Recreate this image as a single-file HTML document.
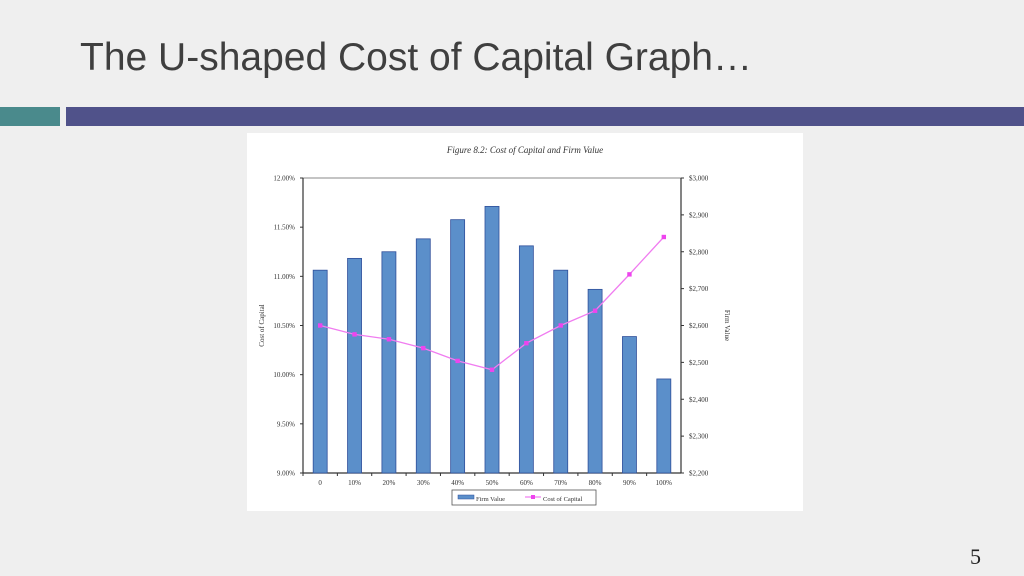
<!DOCTYPE html>
<html><head><meta charset="utf-8"><style>
body{margin:0;width:1024px;height:576px;background:#efefef;position:relative;overflow:hidden;font-family:"Liberation Sans",sans-serif}
#title{position:absolute;left:80px;top:36px;font-size:39px;color:#3f3f3f;white-space:nowrap}
#bar-teal{position:absolute;left:0;top:107px;width:60px;height:19px;background:#4a8a8c}
#bar-purple{position:absolute;left:66px;top:107px;width:958px;height:19px;background:#50528a}
#page-num{position:absolute;left:970px;top:544px;font-family:"Liberation Serif",serif;font-size:22px;color:#222}
svg{position:absolute;left:247px;top:133px}
svg text{font-family:"Liberation Serif",serif;fill:#333}
</style></head><body>
<div id="title">The U-shaped Cost of Capital Graph…</div>
<div id="bar-teal"></div>
<div id="bar-purple"></div>
<div id="page-num">5</div>
<svg id="chart" width="556" height="378"></svg>
<script>
const categories=["0","10%","20%","30%","40%","50%","60%","70%","80%","90%","100%"];
const firmValue=[2750,2782,2800,2835,2887,2923,2816,2750,2698,2570,2455];
const costOfCapital=[10.50,10.41,10.36,10.27,10.14,10.05,10.32,10.50,10.65,11.02,11.40];
const leftTicks=[9.0,9.5,10.0,10.5,11.0,11.5,12.0];
const rightTicks=[2200,2300,2400,2500,2600,2700,2800,2900,3000];

const svg=document.getElementById('chart');
const NS='http://www.w3.org/2000/svg';
const L=56,R=434,T=45,B=340;
function yL(v){return B-(v-9)/3*(B-T);}
function yR(v){return B-(v-2200)/800*(B-T);}
const step=(R-L)/categories.length;
function xC(i){return L+step*(i+0.5);}
function mk(tag,attrs,parent){const e=document.createElementNS(NS,tag);for(const k in attrs)e.setAttribute(k,attrs[k]);(parent||svg).appendChild(e);return e;}

let bg=mk('rect',{x:0,y:0,width:556,height:378,fill:'#fff'});


let t=mk('text',{x:278,y:20,'text-anchor':'middle','font-size':9,'font-style':'italic'});
t.textContent='Figure 8.2: Cost of Capital and Firm Value';



let frame=mk('rect',{x:L,y:T,width:R-L,height:B-T,fill:'none',stroke:'#888','stroke-width':1});



leftTicks.forEach(v=>{
  let y=yL(v);
  mk('line',{x1:L-3,x2:L,y1:y,y2:y,stroke:'#333'});
  let tx=mk('text',{x:L-8,y:y+2.5,'text-anchor':'end','font-size':7});
  tx.textContent=v.toFixed(2)+'%';
  
  
});
rightTicks.forEach(v=>{
  let y=yR(v);
  mk('line',{x1:R,x2:R+3,y1:y,y2:y,stroke:'#333'});
  let tx=mk('text',{x:R+8,y:y+2.5,'font-size':7});
  tx.textContent='$'+v.toLocaleString('en-US');
  
  
});
mk('line',{x1:L,x2:R,y1:B,y2:B,stroke:'#333','stroke-width':1.2});
mk('line',{x1:L,x2:L,y1:T,y2:B,stroke:'#333','stroke-width':1.2});
mk('line',{x1:R,x2:R,y1:T,y2:B,stroke:'#333','stroke-width':1.2});

categories.forEach((c,i)=>{
  mk('line',{x1:L+step*i,x2:L+step*i,y1:B,y2:B+3,stroke:'#333'});
  let tx=mk('text',{x:xC(i),y:B+12,'text-anchor':'middle','font-size':7});
  tx.textContent=c;
  
  
  let y=yR(firmValue[i]);
  let b=mk('rect',{x:xC(i)-7,y:y,width:14,height:B-y,fill:'#5b8fca',stroke:'#2f4f9a','stroke-width':0.8});
  
  
});
let pts=costOfCapital.map((v,i)=>xC(i)+','+yL(v)).join(' ');
let pl=mk('polyline',{points:pts,fill:'none',stroke:'#f07cf0','stroke-width':1.3});


costOfCapital.forEach((v,i)=>{
  let p=mk('rect',{x:xC(i)-2.2,y:yL(v)-2.2,width:4.4,height:4.4,fill:'#ee44ee'});
  
  
});
let yl=mk('text',{x:0,y:0,'text-anchor':'middle','font-size':7,transform:'translate(17,'+((T+B)/2)+') rotate(-90)'});
yl.textContent='Cost of Capital';


let yr=mk('text',{x:0,y:0,'text-anchor':'middle','font-size':7,transform:'translate(478,'+((T+B)/2)+') rotate(90)'});
yr.textContent='Firm Value';



let lg=mk('g',{});


mk('rect',{x:205,y:357,width:144,height:15,fill:'#fff',stroke:'#555','stroke-width':0.8},lg);
mk('rect',{x:211,y:362,width:16,height:4,fill:'#5b8fca',stroke:'#2f4f9a','stroke-width':0.5},lg);
let l1=mk('text',{x:229,y:368,'font-size':6.5},lg);l1.textContent='Firm Value';


mk('line',{x1:278,x2:294,y1:364,y2:364,stroke:'#f07cf0','stroke-width':1.2},lg);
mk('rect',{x:284,y:362,width:4,height:4,fill:'#ee44ee'},lg);
let l2=mk('text',{x:296,y:368,'font-size':6.5},lg);l2.textContent='Cost of Capital';


</script>
</body></html>
